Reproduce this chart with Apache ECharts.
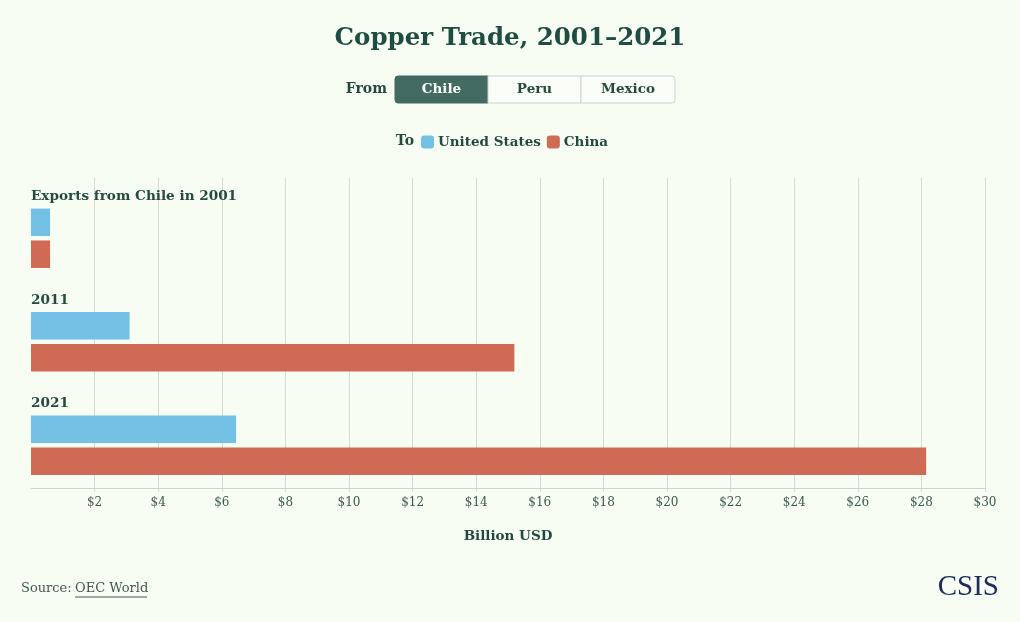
<!DOCTYPE html>
<html>
<head>
<meta charset="utf-8">
<script src="https://cdn.jsdelivr.net/npm/echarts@6/dist/echarts.min.js"></script>
<style>
html,body{margin:0;padding:0;background:#f8fdf4;}
#chart{width:1020px;height:622px;}
</style>
</head>
<body>
<div id="chart"></div>
<script>
const categories = ['Exports from Chile in 2001', '2011', '2021'];
const usValues = [0.6, 3.1, 6.45];
const chinaValues = [0.6, 15.2, 28.15];
const seriesNames = ['United States', 'China'];
const xTicks = ['$2','$4','$6','$8','$10','$12','$14','$16','$18','$20','$22','$24','$26','$28','$30'];
const fromButtons = ['Chile', 'Peru', 'Mexico'];

const SERIF = '"DejaVu Serif", "Noto Serif", serif';
const TXT = '#24493f';
const GRID = '#d6dad4';

const chart = echarts.init(document.getElementById('chart'), null, {renderer: 'canvas'});

const splitColors = [ 'rgba(0,0,0,0)' ].concat(xTicks.map(() => GRID));

const btnX = [395, 488, 581, 675];
const buttonGraphics = [];
fromButtons.forEach((b, i) => {
  const active = i === 0;
  const r = i === 0 ? [3,0,0,3] : (i === fromButtons.length - 1 ? [0,3,3,0] : 0);
  buttonGraphics.push({
    type: 'rect', shape: {x: btnX[i], y: 76, width: btnX[i+1]-btnX[i], height: 27, r: r},
    style: {fill: active ? '#436b61' : '#fafdf8', stroke: active ? '#436b61' : '#c8d4cd', lineWidth: 1}
  });
  buttonGraphics.push({
    type: 'text', x: (btnX[i] + btnX[i+1]) / 2, y: 89.5,
    style: {text: b, fill: active ? '#ffffff' : TXT, font: 'bold 13.5px ' + SERIF, align: 'center', verticalAlign: 'middle'}
  });
});

const option = {
  backgroundColor: '#f8fdf4',
  animation: false,
  title: {
    text: 'Copper Trade, 2001–2021',
    left: 'center', top: 21,
    textStyle: {fontFamily: SERIF, fontWeight: 'bold', fontSize: 24.5, color: '#1f4d42'}
  },
  legend: {
    data: seriesNames,
    left: 421, top: 135, padding: 0,
    icon: 'roundRect',
    itemWidth: 13, itemHeight: 13, itemGap: 6,
    textStyle: {fontFamily: SERIF, fontWeight: 'bold', fontSize: 13.5, color: TXT, padding: [0,0,0,-1]},
    selectedMode: false
  },
  grid: [
    {left: 31, right: 35, top: 178, height: 310, containLabel: false},
    {left: 31, right: 35, top: 186.5, height: 310.5, containLabel: false}
  ],
  xAxis: [
    {
      type: 'value', gridIndex: 0, min: 0, max: 30, interval: 2,
      axisLine: {show: true, lineStyle: {color: '#cfd3ce', width: 1}},
      axisTick: {show: true, length: 4, lineStyle: {color: GRID}},
      splitLine: {show: true, lineStyle: {color: splitColors, width: 1}},
      axisLabel: {
        showMinLabel: false, margin: 9,
        formatter: v => v === 0 ? '' : xTicks[v / 2 - 1],
        fontFamily: SERIF, fontSize: 12, color: '#3a5a50'
      },
      name: 'Billion USD', nameLocation: 'middle', nameGap: 41,
      nameTextStyle: {fontFamily: SERIF, fontWeight: 'bold', fontSize: 13.5, color: TXT}
    },
    {
      type: 'value', gridIndex: 1, min: 0, max: 30, show: false
    }
  ],
  yAxis: [
    {type: 'category', gridIndex: 0, data: categories, show: false},
    {type: 'category', gridIndex: 1, data: categories, inverse: true, show: false}
  ],
  series: [
    {
      name: seriesNames[0], type: 'bar', xAxisIndex: 1, yAxisIndex: 1,
      data: usValues, barWidth: 27.5, barGap: '16%',
      itemStyle: {color: '#75c1e5'},
      label: {
        show: true, position: [0, -12], align: 'left', verticalAlign: 'middle',
        formatter: p => p.name,
        fontFamily: SERIF, fontWeight: 'bold', fontSize: 13.6, color: TXT
      }
    },
    {
      name: seriesNames[1], type: 'bar', xAxisIndex: 1, yAxisIndex: 1,
      data: chinaValues, barWidth: 27.5, barGap: '16%',
      itemStyle: {color: '#cf6a54'}
    }
  ],
  graphic: [
    {type: 'text', x: 387, y: 89.5, style: {text: 'From', fill: TXT, font: 'bold 14px ' + SERIF, align: 'right', verticalAlign: 'middle'}},
    {type: 'text', x: 414, y: 141, style: {text: 'To', fill: TXT, font: 'bold 14px ' + SERIF, align: 'right', verticalAlign: 'middle'}},
    ...buttonGraphics,
    {type: 'text', x: 21, y: 589, style: {text: 'Source:', fill: '#3e5a52', font: '13px ' + SERIF, align: 'left', verticalAlign: 'middle'}},
    {type: 'text', x: 75, y: 589, style: {text: 'OEC World', fill: '#3e5a52', font: '13px ' + SERIF, align: 'left', verticalAlign: 'middle'}},
    {type: 'line', shape: {x1: 75, y1: 597, x2: 147, y2: 597}, style: {stroke: '#3e5a52', lineWidth: 1}},
    {type: 'text', x: 999, y: 587, style: {text: 'CSIS', fill: '#1f2b5b', font: '29px "Liberation Serif", serif', align: 'right', verticalAlign: 'middle'}}
  ]
};
chart.setOption(option);
</script>
</body>
</html>
